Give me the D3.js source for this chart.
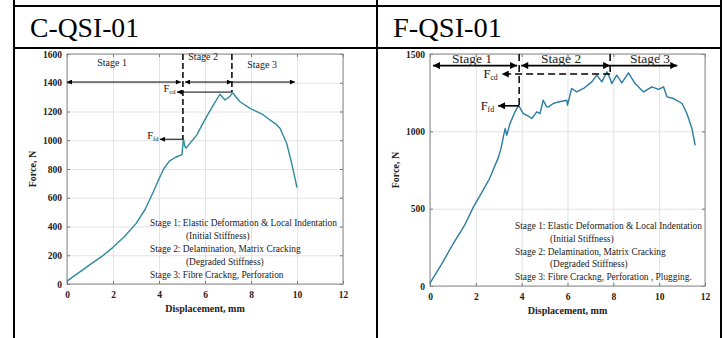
<!DOCTYPE html>
<html>
<head>
<meta charset="utf-8">
<script src="https://cdn.jsdelivr.net/npm/d3@7"></script>
<style>
  body { margin: 0; background: #fff; }
  svg { display: block; }
</style>
</head>
<body>
<div id="chart"></div>
<script>
// values
const headers = ["C-QSI-01", "F-QSI-01"];
const xTicks = [0, 2, 4, 6, 8, 10, 12];

// C-QSI-01
const cYTicks = [0, 200, 400, 600, 800, 1000, 1200, 1400, 1600];
const cDisp  = [0, 0.3, 0.7, 1.0, 1.5, 2.0, 2.5, 3.0, 3.4, 3.75, 4.0, 4.2, 4.45, 4.7, 5.0, 5.06, 5.12, 5.18, 5.4, 5.64, 5.85, 6.07, 6.36, 6.65, 6.87, 7.05, 7.2, 7.52, 7.96, 8.3, 8.54, 8.83, 9.1, 9.26, 9.55, 9.77, 10.0];
const cForce = [20, 55, 100, 135, 190, 255, 330, 420, 520, 640, 730, 800, 855, 880, 900, 1010, 960, 945, 990, 1036, 1100, 1164, 1245, 1320, 1280, 1300, 1330, 1268, 1222, 1195, 1176, 1141, 1110, 1083, 979, 839, 670];
const cStageBounds = [0, 5.04, 7.17, 9.91];
const cStageForce = 1405;
const cFfd = 1007, cFcd = 1335;
const cLegend = [
  "Stage 1: Elastic Deformation & Local Indentation",
  "(Initial Stiffness)",
  "Stage 2: Delamination, Matrix Cracking",
  "(Degraded Stiffness)",
  "Stage 3: Fibre Crackng, Perforation"
];

// F-QSI-01
const fYTicks = [0, 500, 1000, 1500];
const fDisp  = [0, 0.5, 1.0, 1.5, 1.89, 2.3, 2.6, 2.98, 3.1, 3.2, 3.28, 3.35, 3.49, 3.71, 3.86, 4.07, 4.29, 4.44, 4.66, 4.8, 4.94, 5.09, 5.17, 5.38, 5.6, 5.97, 6.0, 6.18, 6.4, 6.7, 7.06, 7.28, 7.5, 7.72, 7.86, 7.93, 8.15, 8.37, 8.66, 8.95, 9.32, 9.68, 9.97, 10.19, 10.34, 10.63, 11.0, 11.21, 11.43, 11.57];
const fForce = [18, 140, 270, 390, 510, 615, 695, 830, 890, 964, 1018, 975, 1050, 1126, 1169, 1115, 1098, 1083, 1126, 1115, 1201, 1158, 1158, 1180, 1190, 1201, 1169, 1277, 1255, 1277, 1320, 1363, 1320, 1385, 1342, 1309, 1363, 1313, 1378, 1309, 1255, 1288, 1271, 1288, 1223, 1212, 1180, 1115, 1018, 910];
const fStageBounds = [0.13, 3.89, 7.86, 10.79];
const fStageForce = 1425;
const fFfd = 1165, fFcd = 1370;
const fLegend = [
  "Stage 1: Elastic Deformation & Local Indentation",
  "(Initial Stiffness)",
  "Stage 2: Delamination, Matrix Cracking",
  "(Degraded Stiffness)",
  "Stage 3: Fibre Crackng, Perforation , Plugging."
];

const width = 727, height = 338;
const serif = "'Liberation Serif', 'Times New Roman', serif";

const svg = d3.select("#chart").append("svg")
    .attr("width", width)
    .attr("height", height)
    .attr("viewBox", [0, 0, width, height]);

// arrow heads
const defs = svg.append("defs");
function marker(id, w, h) {
  defs.append("marker")
      .attr("id", id)
      .attr("viewBox", "0 0 10 10")
      .attr("refX", 10).attr("refY", 5)
      .attr("markerWidth", w).attr("markerHeight", h)
      .attr("markerUnits", "userSpaceOnUse")
      .attr("orient", "auto-start-reverse")
    .append("path")
      .attr("d", "M0,0L10,5L0,10z")
      .attr("fill", "#000");
}
marker("headS", 6, 5);
marker("headL", 8, 7);

// table frame and headers
const frame = svg.append("g").attr("stroke", "#000").attr("stroke-width", 2);
[6, 48].forEach(yy => frame.append("line").attr("x1", 13).attr("x2", 722).attr("y1", yy).attr("y2", yy));
[14, 377, 721].forEach(xx => frame.append("line").attr("x1", xx).attr("x2", xx).attr("y1", 0).attr("y2", height));

svg.append("g").selectAll("text")
  .data(headers)
  .join("text")
    .attr("x", (d, i) => i ? 393 : 30)
    .attr("y", 37)
    .attr("font-family", serif)
    .attr("font-size", 28)
    .attr("textLength", 109)
    .attr("lengthAdjust", "spacingAndGlyphs")
    .text(d => d);

function panel(o) {
  const x = d3.scaleLinear([0, 12], [o.left, o.right]);
  const y = d3.scaleLinear([0, o.yMax], [o.bottom, o.top]);
  const g = svg.append("g");
  const h = o.bottom - o.top, w = o.right - o.left;
  const fmt = d3.format("d");

  // grid
  g.append("g")
      .attr("transform", `translate(0,${o.bottom})`)
      .call(d3.axisBottom(x).tickValues(xTicks).tickSize(-h).tickFormat(""))
      .call(s => s.select(".domain").remove())
      .call(s => s.selectAll("line").attr("stroke", "#e3e3e3"));
  g.append("g")
      .attr("transform", `translate(${o.left},0)`)
      .call(d3.axisLeft(y).tickValues(o.yTicks).tickSize(-w).tickFormat(""))
      .call(s => s.select(".domain").remove())
      .call(s => s.selectAll("line").attr("stroke", "#e3e3e3"));

  // axes, ticks inward on all four sides
  const tickStyle = s => {
    s.select(".domain").remove();
    s.selectAll("line").attr("stroke", "#777");
    s.selectAll("text")
      .attr("font-family", serif)
      .attr("font-weight", "bold")
      .attr("font-size", 9.5)
      .attr("fill", "#222");
  };
  g.append("g")
      .attr("transform", `translate(0,${o.bottom})`)
      .call(d3.axisBottom(x).tickValues(xTicks).tickFormat(fmt).tickSizeInner(-3).tickSizeOuter(0).tickPadding(7))
      .call(tickStyle);
  g.append("g")
      .attr("transform", `translate(0,${o.top})`)
      .call(d3.axisTop(x).tickValues(xTicks).tickSizeInner(-3).tickSizeOuter(0).tickFormat(""))
      .call(tickStyle);
  g.append("g")
      .attr("transform", `translate(${o.left},0)`)
      .call(d3.axisLeft(y).tickValues(o.yTicks).tickFormat(fmt).tickSizeInner(-3).tickSizeOuter(0).tickPadding(5))
      .call(tickStyle);
  g.append("g")
      .attr("transform", `translate(${o.right},0)`)
      .call(d3.axisRight(y).tickValues(o.yTicks).tickSizeInner(-3).tickSizeOuter(0).tickFormat(""))
      .call(tickStyle);

  g.append("rect")
      .attr("x", o.left).attr("y", o.top)
      .attr("width", w).attr("height", h)
      .attr("fill", "none")
      .attr("stroke", "#8a8a8a");

  // axis titles
  g.append("text")
      .attr("x", (o.left + o.right) / 2)
      .attr("y", o.bottom + 28)
      .attr("text-anchor", "middle")
      .attr("font-family", serif)
      .attr("font-weight", "bold")
      .attr("font-size", 10)
      .attr("fill", "#222")
      .text("Displacement, mm");
  g.append("text")
      .attr("transform", `translate(${o.left - 31},${(o.top + o.bottom) / 2}) rotate(-90)`)
      .attr("text-anchor", "middle")
      .attr("font-family", serif)
      .attr("font-weight", "bold")
      .attr("font-size", 10)
      .attr("fill", "#222")
      .text("Force, N");

  // curve
  const pts = d3.zip(o.disp, o.force);
  g.append("path")
      .datum(pts)
      .attr("fill", "none")
      .attr("stroke", o.color)
      .attr("stroke-width", 1.4)
      .attr("stroke-linejoin", "round")
      .attr("d", d3.line().x(d => x(d[0])).y(d => y(d[1])));

  // stage arrows
  const b = o.bounds, sy = y(o.stageForce), gap = 0.09;
  const ann = g.append("g").attr("stroke", "#000").attr("stroke-width", o.arrowW).attr("fill", "none");
  const spans = [[b[0], b[1] - gap, true], [b[1] + gap, b[2], true], [b[2], b[3], false]];
  spans.forEach(([a, c, both]) => {
    ann.append("line")
        .attr("x1", x(a)).attr("x2", x(c)).attr("y1", sy).attr("y2", sy)
        .attr("marker-start", both ? `url(#${o.head})` : null)
        .attr("marker-end", `url(#${o.head})`);
  });

  // dashed stage boundaries
  ann.append("line")
      .attr("x1", x(b[1])).attr("x2", x(b[1]))
      .attr("y1", o.top).attr("y2", y(o.ffd))
      .attr("stroke-width", 1.5)
      .attr("stroke-dasharray", o.dash);
  ann.append("line")
      .attr("x1", x(b[2])).attr("x2", x(b[2]))
      .attr("y1", o.top).attr("y2", y(o.fcd))
      .attr("stroke-width", 1.5)
      .attr("stroke-dasharray", o.dash);

  // Ffd / Fcd markers
  ann.append("line")
      .attr("x1", x(b[1])).attr("x2", x(o.ffdTip))
      .attr("y1", y(o.ffd)).attr("y2", y(o.ffd))
      .attr("marker-end", `url(#${o.head})`);
  ann.append("line")
      .attr("x1", x(b[2])).attr("x2", x(o.fcdTip))
      .attr("y1", y(o.fcd)).attr("y2", y(o.fcd))
      .attr("stroke-width", o.fcdDash ? 1.5 : o.arrowW)
      .attr("stroke-dasharray", o.fcdDash)
      .attr("marker-end", `url(#${o.head})`);

  const fLabel = (xx, yy, sub) => {
    const t = g.append("text")
        .attr("x", xx).attr("y", yy)
        .attr("text-anchor", "end")
        .attr("font-family", serif)
        .attr("font-size", o.fSize)
        .attr("fill", "#111");
    t.append("tspan").text("F");
    t.append("tspan").attr("font-size", o.fSize * 0.62).attr("dy", 2).text(sub);
  };
  fLabel(x(o.ffdTip) - o.fGap, y(o.ffd) + o.fDy, "fd");
  fLabel(x(o.fcdTip) - o.fGap, y(o.fcd) + o.fDy, "cd");

  // stage titles
  g.append("g").selectAll("text")
    .data(o.stageLabels)
    .join("text")
      .attr("x", d => x(d[0]))
      .attr("y", d => d[1])
      .attr("text-anchor", "middle")
      .attr("font-family", serif)
      .attr("font-size", o.stageSize)
      .attr("fill", "#222")
      .text((d, i) => "Stage " + (i + 1));

  // stage description block
  g.append("g").selectAll("text")
    .data(o.legend)
    .join("text")
      .attr("x", (d, i) => i % 2 ? o.legendX + o.indent : o.legendX)
      .attr("y", (d, i) => o.legendY + i * o.legendStep)
      .attr("font-family", serif)
      .attr("font-size", 9.4)
      .attr("fill", "#222")
      .text(d => d);
}

panel({
  left: 67, right: 343, top: 54, bottom: 284, yMax: 1600, yTicks: cYTicks,
  disp: cDisp, force: cForce, color: "#2f8a9c",
  bounds: cStageBounds, stageForce: cStageForce,
  ffd: cFfd, fcd: cFcd, ffdTip: 4.04, fcdTip: 4.78, fcdDash: null,
  head: "headS", arrowW: 1, dash: "6,3",
  fSize: 10.5, fGap: 1.5, fDy: 0, stageSize: 10,
  stageLabels: [[1.96, 66], [5.92, 60], [8.48, 68]],
  legend: cLegend, legendX: 150, legendY: 226, legendStep: 13, indent: 36
});

panel({
  left: 430, right: 705, top: 54, bottom: 286, yMax: 1500, yTicks: fYTicks,
  disp: fDisp, force: fForce, color: "#2b7ba3",
  bounds: fStageBounds, stageForce: fStageForce,
  ffd: fFfd, fcd: fFcd, ffdTip: 2.97, fcdTip: 3.13, fcdDash: "7,4",
  head: "headL", arrowW: 1.6, dash: "7,4",
  fSize: 12.5, fGap: 4, fDy: 4, stageSize: 13.5,
  stageLabels: [[1.83, 63], [5.72, 63], [9.6, 63]],
  legend: fLegend, legendX: 515, legendY: 229, legendStep: 12.8, indent: 35
});
</script>
</body>
</html>
